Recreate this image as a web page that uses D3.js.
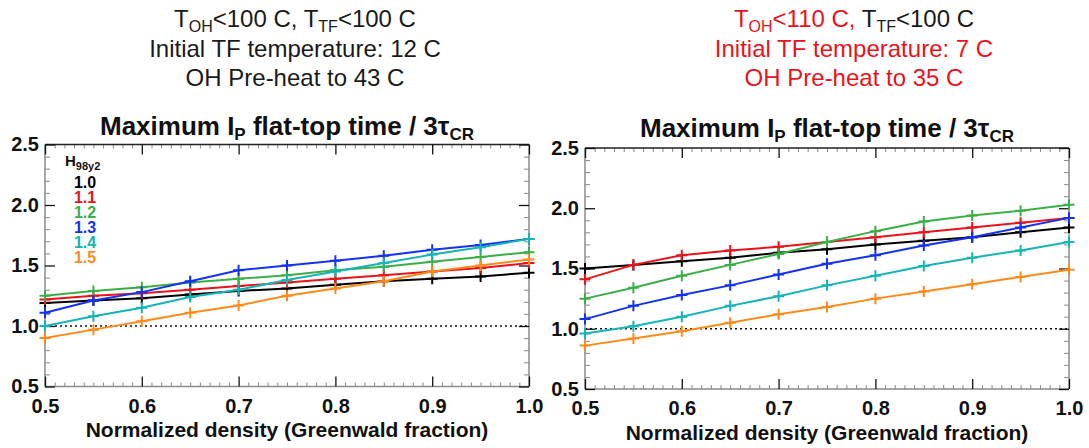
<!DOCTYPE html>
<html>
<head>
<meta charset="utf-8">
<script src="https://cdn.jsdelivr.net/npm/d3@7"></script>
<style>
  html, body { margin: 0; padding: 0; background: #fff; }
  svg { display: block; font-family: "Liberation Sans", Arial, sans-serif; }
</style>
</head>
<body>
<svg id="chart" width="1089" height="448"></svg>
<script>
// ---------------- data ----------------
const densities = [0.5, 0.55, 0.6, 0.65, 0.7, 0.75, 0.8, 0.85, 0.9, 0.95, 1.0];
const hLabels = ["1.0", "1.1", "1.2", "1.3", "1.4", "1.5"];
const xTickValues = [0.5, 0.6, 0.7, 0.8, 0.9, 1.0];
const yTickValues = [0.5, 1.0, 1.5, 2.0, 2.5];

// Left panel (T_OH<100 C, initial TF 12 C, OH pre-heat 43 C)
const leftH10 = [1.19, 1.21, 1.23, 1.26, 1.29, 1.31, 1.34, 1.37, 1.39, 1.41, 1.44];
const leftH11 = [1.22, 1.25, 1.27, 1.30, 1.33, 1.36, 1.39, 1.42, 1.45, 1.48, 1.52];
const leftH12 = [1.25, 1.29, 1.32, 1.36, 1.39, 1.42, 1.46, 1.49, 1.53, 1.57, 1.61];
const leftH13 = [1.11, 1.21, 1.28, 1.37, 1.46, 1.50, 1.54, 1.58, 1.63, 1.67, 1.72];
const leftH14 = [1.00, 1.08, 1.15, 1.24, 1.30, 1.38, 1.45, 1.52, 1.59, 1.65, 1.72];
const leftH15 = [0.90, 0.97, 1.04, 1.11, 1.17, 1.25, 1.31, 1.37, 1.45, 1.50, 1.55];

// Right panel (T_OH<110 C, initial TF 7 C, OH pre-heat 35 C)
const rightH10 = [1.50, 1.53, 1.56, 1.59, 1.63, 1.66, 1.70, 1.73, 1.76, 1.80, 1.84];
const rightH11 = [1.41, 1.53, 1.61, 1.65, 1.68, 1.72, 1.76, 1.80, 1.84, 1.88, 1.92];
const rightH12 = [1.25, 1.34, 1.44, 1.53, 1.62, 1.72, 1.81, 1.89, 1.94, 1.98, 2.03];
const rightH13 = [1.08, 1.19, 1.28, 1.36, 1.45, 1.54, 1.61, 1.69, 1.76, 1.84, 1.92];
const rightH14 = [0.96, 1.02, 1.10, 1.19, 1.27, 1.36, 1.44, 1.52, 1.59, 1.65, 1.72];
const rightH15 = [0.86, 0.92, 0.98, 1.05, 1.12, 1.18, 1.25, 1.31, 1.37, 1.43, 1.49];

const seriesColors = ["#000000", "#e8131b", "#3cae48", "#1432f0", "#16b4b4", "#ff8a1c"];

// ---------------- drawing ----------------
const svg = d3.select("#chart");
const redText = "#e8131b";
const darkText = "#1a1a1a";

// Headers
function header(cx, txt, redLine1a, redRest) {
  const g = svg.append("g").attr("font-size", 24).attr("text-anchor", "middle");
  const t1 = g.append("text").attr("x", cx).attr("y", 27);
  const c1 = redLine1a ? redText : darkText;
  t1.append("tspan").attr("fill", c1).text("T");
  t1.append("tspan").attr("fill", c1).attr("font-size", 16).attr("dy", 5).text("OH");
  t1.append("tspan").attr("fill", c1).attr("dy", -5).text(txt.oh);
  t1.append("tspan").attr("fill", darkText).text("T");
  t1.append("tspan").attr("fill", darkText).attr("font-size", 16).attr("dy", 5).text("TF");
  t1.append("tspan").attr("fill", darkText).attr("dy", -5).text("<100 C");
  const c2 = redRest ? redText : darkText;
  g.append("text").attr("x", cx).attr("y", 57).attr("fill", c2).text(txt.l2);
  g.append("text").attr("x", cx).attr("y", 86).attr("fill", c2).text(txt.l3);
}
header(295, { oh: "<100 C, ", l2: "Initial TF temperature: 12 C", l3: "OH Pre-heat to 43 C" }, false, false);
header(854, { oh: "<110 C, ", l2: "Initial TF temperature: 7 C", l3: "OH Pre-heat to 35 C" }, true, true);

function panel(cfg, series, withLegend) {
  const x = d3.scaleLinear().domain([0.5, 1.0]).range([cfg.x0, cfg.x1]);
  const y = d3.scaleLinear().domain([0.5, 2.5]).range([cfg.y1, cfg.y0]);
  const g = svg.append("g");

  // title
  const tt = g.append("text").attr("x", cfg.tx).attr("y", cfg.ty)
    .attr("text-anchor", "middle").attr("font-size", 26).attr("font-weight", "bold").attr("fill", "#111");
  tt.append("tspan").text("Maximum I");
  tt.append("tspan").attr("font-size", 17).attr("dy", 5).text("P");
  tt.append("tspan").attr("dy", -5).text(" flat-top time / 3\u03C4");
  tt.append("tspan").attr("font-size", 17).attr("dy", 5).text("CR");

  // minor ticks
  const xMinor = d3.range(50, 101).map(d => d / 100).filter(d => Math.round(d * 100) % 10 !== 0);
  const yMinor = d3.range(5, 26).map(d => d / 10).filter(d => Math.round(d * 10) % 5 !== 0);
  const minorStyle = sel => { sel.select(".domain").remove(); sel.selectAll("line").attr("stroke", "#888"); sel.selectAll("text").remove(); };
  g.append("g").attr("transform", `translate(0,${cfg.y1})`).call(d3.axisBottom(x).tickValues(xMinor).tickSize(-4)).call(minorStyle);
  g.append("g").attr("transform", `translate(0,${cfg.y0})`).call(d3.axisTop(x).tickValues(xMinor).tickSize(-4)).call(minorStyle);
  g.append("g").attr("transform", `translate(${cfg.x0},0)`).call(d3.axisLeft(y).tickValues(yMinor).tickSize(-5)).call(minorStyle);
  g.append("g").attr("transform", `translate(${cfg.x1},0)`).call(d3.axisRight(y).tickValues(yMinor).tickSize(-5)).call(minorStyle);

  // frame
  g.append("line").attr("x1", cfg.x0).attr("x2", cfg.x1).attr("y1", cfg.y1).attr("y2", cfg.y1).attr("stroke", "#8a8a8a").attr("stroke-width", 1.5);
  g.append("line").attr("x1", cfg.x0).attr("x2", cfg.x0).attr("y1", cfg.y0).attr("y2", cfg.y1).attr("stroke", "#8a8a8a").attr("stroke-width", 1.5);
  g.append("line").attr("x1", cfg.x1).attr("x2", cfg.x1).attr("y1", cfg.y0).attr("y2", cfg.y1).attr("stroke", "#8a8a8a").attr("stroke-width", 1.5);
  g.append("line").attr("x1", cfg.x0).attr("x2", cfg.x1).attr("y1", cfg.y0).attr("y2", cfg.y0).attr("stroke", "#222").attr("stroke-width", 1.5);

  // major ticks with labels
  const majorStyle = sel => {
    sel.select(".domain").remove();
    sel.selectAll("line").attr("stroke", "#111").attr("stroke-width", 1.3);
    sel.selectAll("text").attr("font-family", "Liberation Sans, Arial, sans-serif")
      .attr("font-weight", "bold").attr("font-size", 20).attr("fill", "#111");
  };
  const fmt = d3.format(".1f");
  g.append("g").attr("transform", `translate(0,${cfg.y1})`)
    .call(d3.axisBottom(x).tickValues(xTickValues).tickFormat(fmt).tickSizeInner(-10).tickSizeOuter(0).tickPadding(cfg.xpad))
    .call(majorStyle);
  g.append("g").attr("transform", `translate(0,${cfg.y0})`)
    .call(d3.axisTop(x).tickValues(xTickValues).tickFormat("").tickSizeInner(-10).tickSizeOuter(0))
    .call(majorStyle);
  g.append("g").attr("transform", `translate(${cfg.x0},0)`)
    .call(d3.axisLeft(y).tickValues(yTickValues).tickFormat(fmt).tickSizeInner(-10).tickSizeOuter(0).tickPadding(6))
    .call(majorStyle);
  g.append("g").attr("transform", `translate(${cfg.x1},0)`)
    .call(d3.axisRight(y).tickValues(yTickValues).tickFormat("").tickSizeInner(-10).tickSizeOuter(0))
    .call(majorStyle);

  // x axis title
  g.append("text").attr("x", cfg.xtx).attr("y", cfg.xty).attr("text-anchor", "middle")
    .attr("font-size", 21).attr("font-weight", "bold").attr("fill", "#111")
    .text("Normalized density (Greenwald fraction)");

  // reference dotted line at 1.0
  g.append("line").attr("x1", x(0.5)).attr("x2", x(1.0)).attr("y1", y(1.0)).attr("y2", y(1.0))
    .attr("stroke", "#111").attr("stroke-width", 1.6).attr("stroke-dasharray", "2,3");

  // series
  const line = d3.line().x((d, i) => x(densities[i])).y(d => y(d));
  series.forEach((vals, si) => {
    const c = seriesColors[si];
    g.append("path").datum(vals).attr("d", line).attr("fill", "none").attr("stroke", c).attr("stroke-width", 2);
    const m = cfg.marker;
    g.append("g").selectAll("path").data(vals).join("path")
      .attr("d", (d, i) => `M${x(densities[i]) - m},${y(d)}H${x(densities[i]) + m}M${x(densities[i])},${y(d) - m}V${y(d) + m}`)
      .attr("stroke", c).attr("stroke-width", 2).attr("fill", "none");
  });

  if (withLegend) {
    const lg = g.append("g").attr("font-weight", "bold");
    const ht = lg.append("text").attr("x", 65).attr("y", 166).attr("font-size", 15).attr("fill", "#111");
    ht.append("tspan").text("H");
    ht.append("tspan").attr("font-size", 11).attr("dy", 4).text("98y2");
    lg.selectAll("text.h").data(hLabels).join("text").attr("class", "h")
      .attr("x", 85).attr("y", (d, i) => 187.5 + i * 15).attr("text-anchor", "middle")
      .attr("font-size", 16).attr("fill", (d, i) => seriesColors[i]).text(d => d);
  }
}

panel({ x0: 45, x1: 529, y0: 144.5, y1: 386.5, tx: 287, ty: 135, xtx: 287, xty: 437, marker: 5.5, xpad: 12 },
  [leftH10, leftH11, leftH12, leftH13, leftH14, leftH15], true);
panel({ x0: 585, x1: 1069, y0: 148, y1: 389, tx: 827, ty: 137, xtx: 827, xty: 440, marker: 5.5, xpad: 12 },
  [rightH10, rightH11, rightH12, rightH13, rightH14, rightH15], false);
</script>
</body>
</html>
